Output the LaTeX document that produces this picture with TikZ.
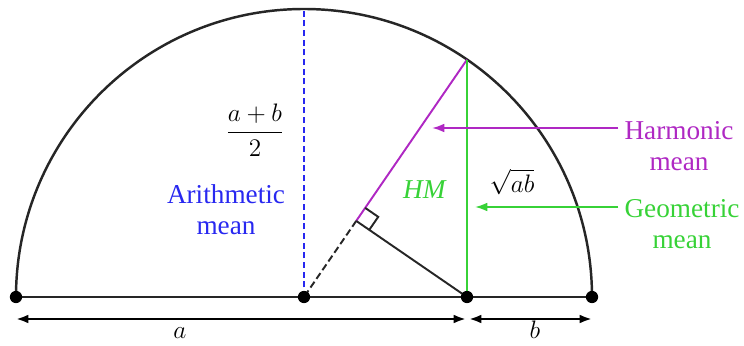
\documentclass[tikz,border=0pt]{standalone}
\usepackage{amsmath}
\usepackage{fontspec}
\setmainfont{Liberation Serif}
\usetikzlibrary{arrows.meta, calc}
\definecolor{amblue}{RGB}{40,40,240}
\definecolor{hmpurple}{RGB}{175,40,195}
\definecolor{gmgreen}{RGB}{55,210,55}
\tikzset{
  mean dot/.style={
    circle,
    fill=black,
    inner sep=0pt,
    minimum size=7pt
  },
  main line/.style={
    line width=1.4pt,
    color=black!85
  },
  am line/.style={
    line width=1.1pt,
    color=amblue,
    dash pattern=on 3.5pt off 2pt
  },
  hm line/.style={
    line width=1.1pt,
    color=hmpurple
  },
  gm line/.style={
    line width=1.1pt,
    color=gmgreen
  },
  mean label/.style={
    align=center,
    font=\fontsize{15.5}{17.5}\selectfont
  },
  len arrow/.style={
    {Latex[length=7pt,width=5pt]}-{Latex[length=7pt,width=5pt]},
    line width=1.3pt
  }
}

\begin{document}
\begin{tikzpicture}[x=0.02cm, y=0.02cm, >={Latex[length=7pt,width=5pt]}]
  \useasboundingbox (-304,-48) rectangle (440,297);

  % 直径上的点 (半径 288, a = 451, b = 125)
  \coordinate (L) at (-288,0);
  \coordinate (O) at (0,0);
  \coordinate (D) at (163,0);
  \coordinate (R) at (288,0);
  \coordinate (T) at (0,288);
  \coordinate (P) at (163,237.4);
  \coordinate (F) at ($(P)!(D)!(O)$);

  % 半圆与直径
  \draw[main line] (R) arc[start angle=0, end angle=180, radius=288];
  \draw[main line] (L) -- (R);

  % 算术平均
  \draw[am line] (O) -- (T);

  % 调和平均与垂线
  \draw[hm line] (P) -- (F);
  \draw[main line, line width=1.1pt, dash pattern=on 4pt off 2pt] (F) -- (O);
  \draw[main line, line width=1.1pt] (F) -- (D);
  \coordinate (F1) at ($(F)!9pt!(P)$);
  \coordinate (F2) at ($(F)!9pt!(D)$);
  \draw[main line, line width=1.1pt] (F1) -- ($(F1)+(F2)-(F)$) -- (F2);

  % 几何平均
  \draw[gm line] (D) -- (P);

  % 点
  \foreach \p in {L,O,D,R} {
    \node[mean dot] (dot \p) at (\p) {};
  }

  % 文字
  \node[mean label] (half) at (-49,167) {$\dfrac{a+b}{2}$};
  \node[mean label, amblue] (am) at (-78,87) {Arithmetic\\mean};
  \node[mean label, gmgreen] (hm) at (121,107) {\textit{HM}};
  \node[mean label] (root) at (208,115) {$\sqrt{ab}$};
  \node[mean label, hmpurple] (harm) at (375,151) {Harmonic\\mean};
  \node[mean label, gmgreen] (geom) at (378,73) {Geometric\\mean};

  % 指示箭头
  \coordinate (harm tip) at (128,169);
  \coordinate (geom tip) at (171,90);
  \draw[->, hm line] (harm.west |- harm tip) -- (harm tip);
  \draw[->, gm line] (geom.west |- geom tip) -- (geom tip);

  % 长度 a, b
  \coordinate (a1) at (-288,-22);
  \coordinate (a2) at (162,-22);
  \coordinate (b1) at (165,-22);
  \coordinate (b2) at (288,-22);
  \draw[len arrow] (a1) -- (a2);
  \draw[len arrow] (b1) -- (b2);
  \node[mean label, inner sep=0pt] (a) at (-124,-36) {$a$};
  \node[mean label, inner sep=0pt] (b) at (231,-33) {$b$};

\end{tikzpicture}
\end{document}
